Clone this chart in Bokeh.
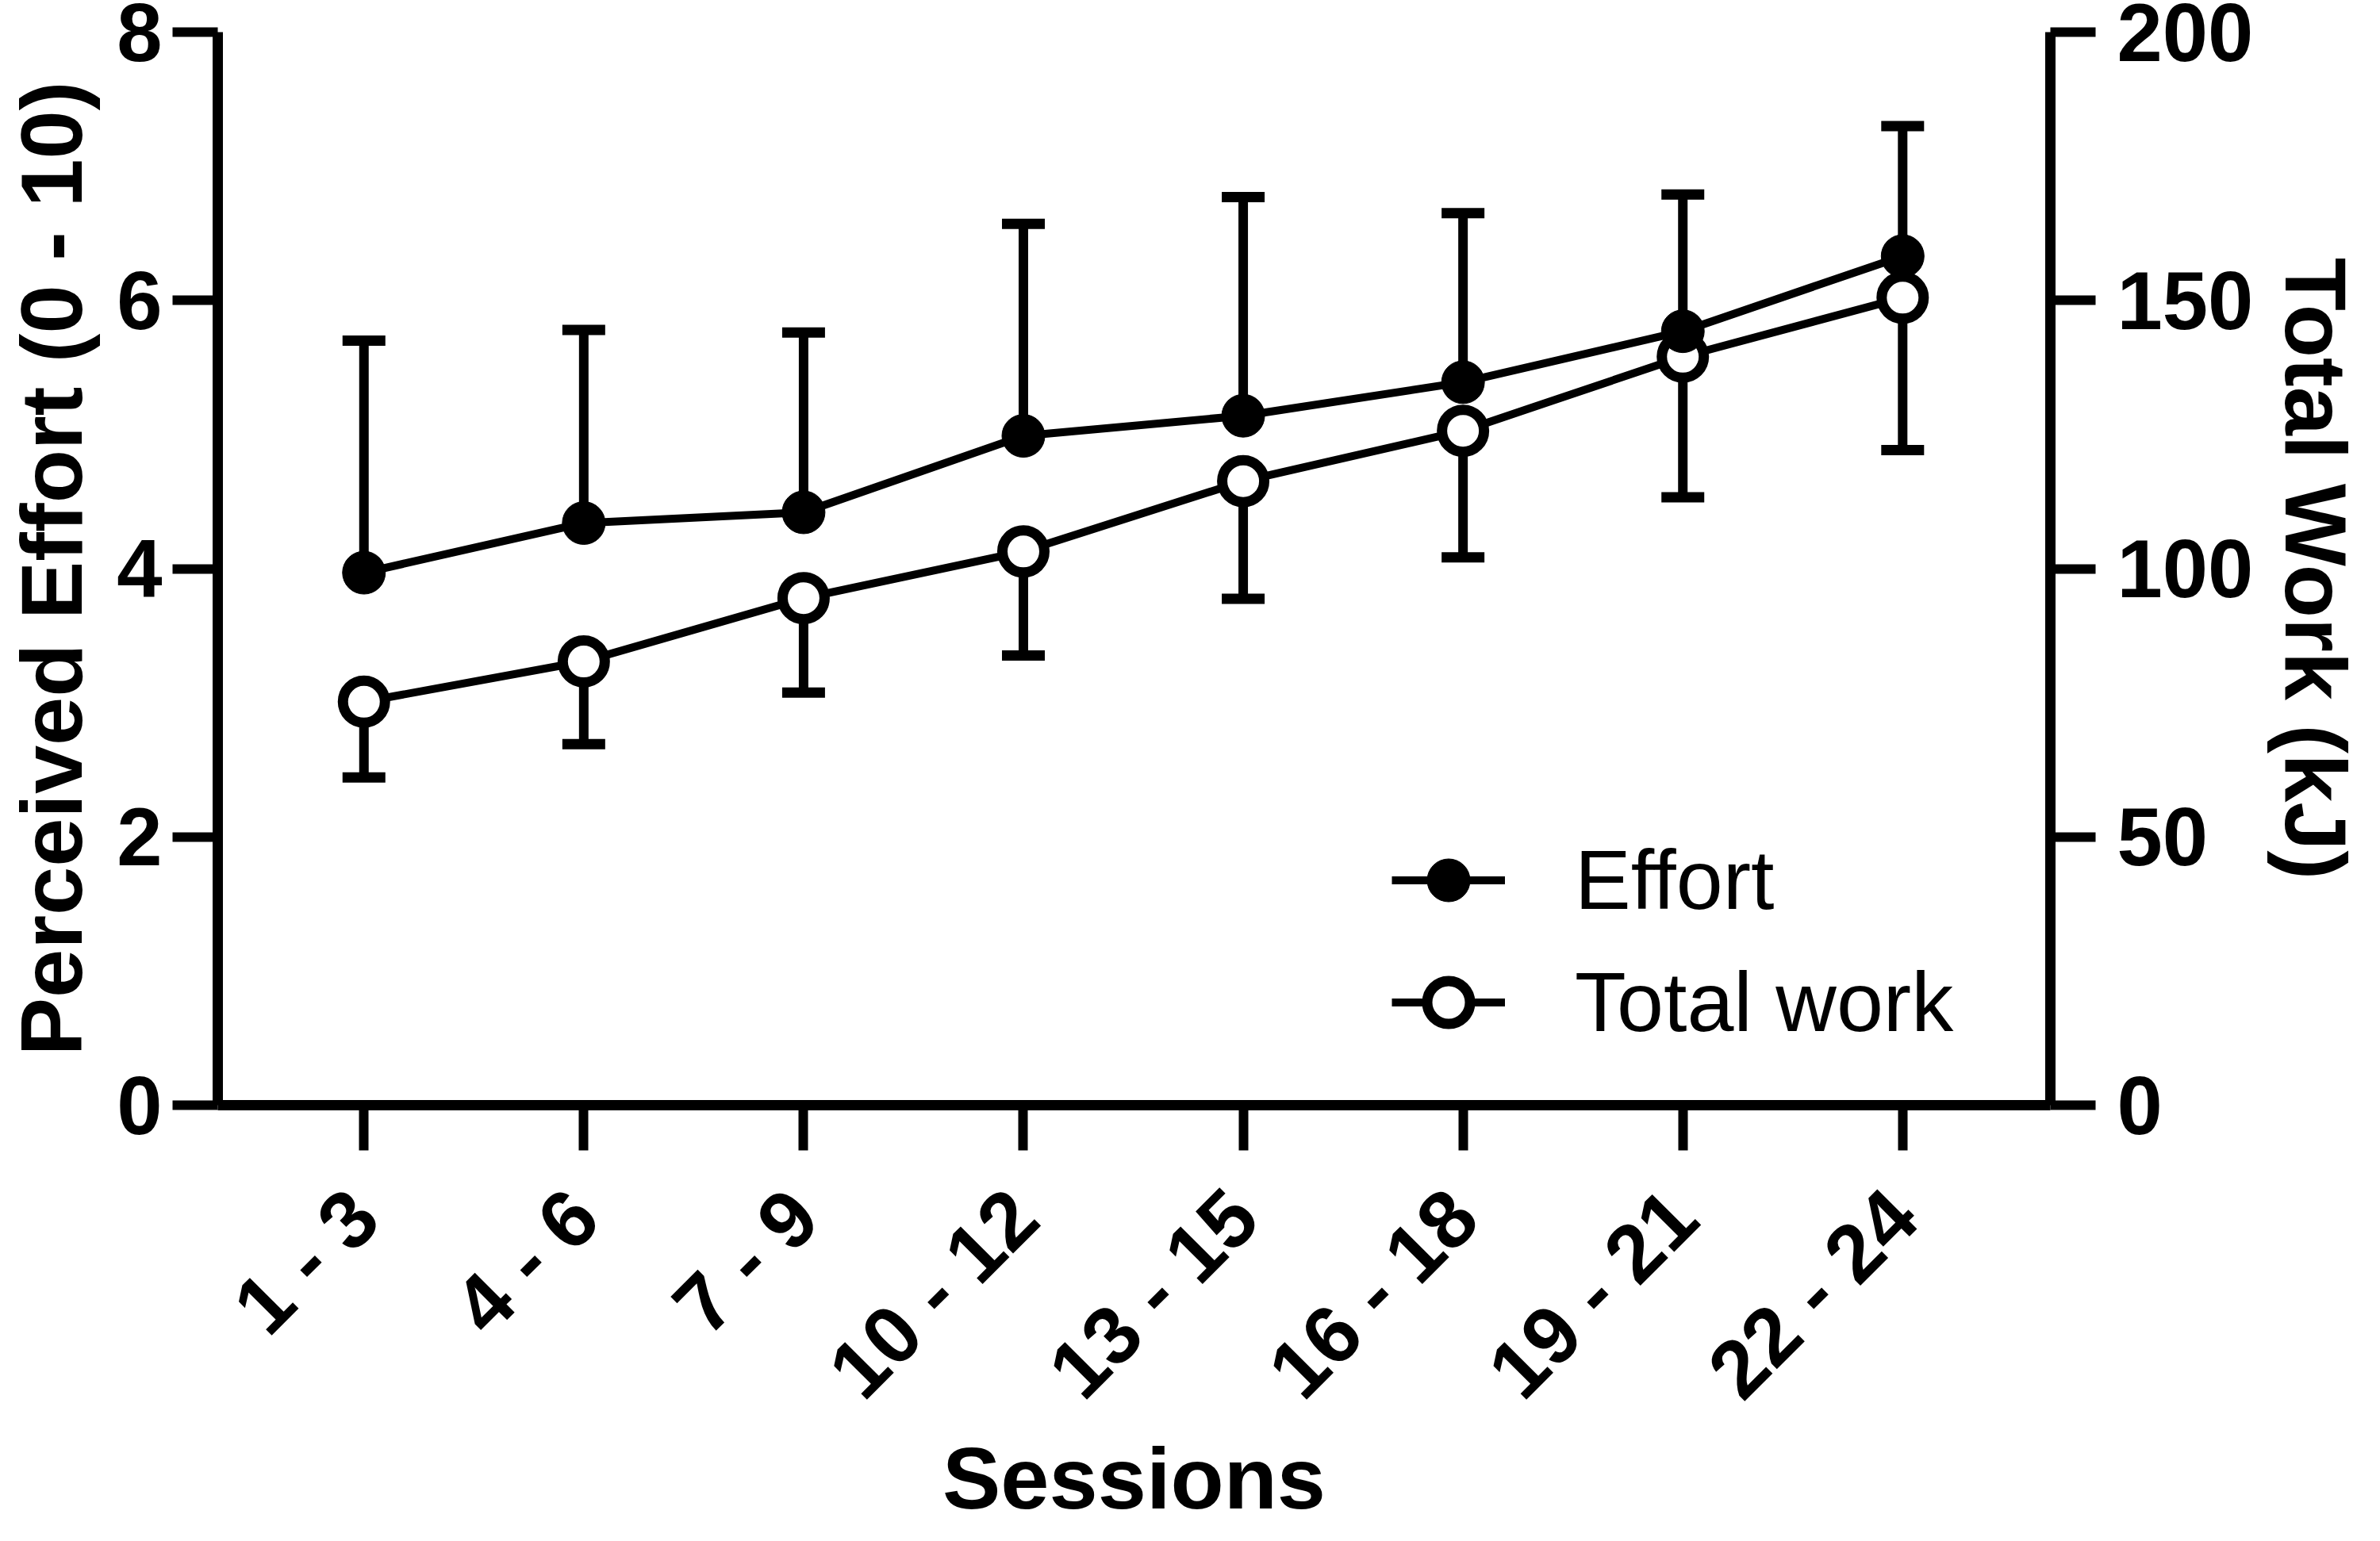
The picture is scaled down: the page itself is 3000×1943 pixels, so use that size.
import math
from bokeh.plotting import figure
from bokeh.models import (ColumnDataSource, Range1d, LinearAxis, FixedTicker,
                          Legend, LegendItem)
from bokeh.embed import file_html
from bokeh.resources import INLINE

# ---- data ----
sessions = ["1 - 3", "4 - 6", "7 - 9", "10 - 12", "13 - 15", "16 - 18", "19 - 21", "22 - 24"]
effort_mean = [3.97, 4.34, 4.42, 4.99, 5.14, 5.39, 5.77, 6.33]
effort_sd = [1.73, 1.44, 1.34, 1.58, 1.63, 1.26, 1.02, 0.97]
work_mean = [75.2, 82.7, 94.5, 103.2, 116.3, 125.7, 139.5, 150.5]
work_sd = [14.1, 15.4, 17.6, 19.4, 21.9, 23.6, 26.2, 28.4]
left_ticks = [0, 2, 4, 6, 8]
right_ticks = [0, 50, 100, 150, 200]
x_title = "Sessions"
left_title = "Perceived Effort (0 - 10)"
right_title = "Total Work (kJ)"

xs = list(range(len(sessions)))
src = ColumnDataSource(dict(
    x=xs,
    effort=effort_mean,
    effort_up=[m + s for m, s in zip(effort_mean, effort_sd)],
    work=work_mean,
    work_lo=[m - s for m, s in zip(work_mean, work_sd)],
))

FONT = "Liberation Sans"
W, H = 2984, 1927
BL, BR, BT, BB = 269, 395, 40, 529          # frame borders (px)
X0, X1 = -0.665, len(sessions) - 1 + 0.672

p = figure(width=W, height=H,
           x_range=Range1d(X0, X1), y_range=Range1d(left_ticks[0], left_ticks[-1]),
           output_backend="svg", toolbar_location=None,
           min_border_left=BL, min_border_right=BR,
           min_border_top=BT, min_border_bottom=BB)
p.extra_y_ranges = {"work": Range1d(right_ticks[0], right_ticks[-1])}
p.outline_line_color = None
p.xgrid.visible = False
p.ygrid.visible = False

right = LinearAxis(y_range_name="work", ticker=FixedTicker(ticks=right_ticks),
                   axis_label=right_title)
p.add_layout(right, "right")
left = p.yaxis[0]
left.ticker = FixedTicker(ticks=left_ticks)
left.axis_label = left_title
bottom = p.xaxis[0]
bottom.ticker = FixedTicker(ticks=xs)
bottom.major_label_overrides = {i: s for i, s in zip(xs, sessions)}
bottom.major_label_orientation = math.pi / 4
bottom.axis_label = x_title

# font sizes avoid exact multiples of 100px (the SVG font parser trips on them)
for ax in [bottom, left, right]:
    ax.axis_line_width = 13
    ax.axis_line_color = "black"
    ax.major_tick_line_width = 12
    ax.major_tick_line_color = "black"
    ax.major_tick_out = 57
    ax.major_tick_in = 0
    ax.minor_tick_out = 0
    ax.minor_tick_in = 0
    ax.major_label_text_font = FONT
    ax.major_label_text_font_style = "bold"
    ax.major_label_text_font_size = "103px"
    ax.major_label_text_color = "black"
    ax.axis_label_text_font = FONT
    ax.axis_label_text_font_style = "bold"
    ax.axis_label_text_font_size = "110px"
    ax.axis_label_text_color = "black"

left.major_label_standoff = 13
left.axis_label_standoff = 18
right.major_label_standoff = 27
right.axis_label_standoff = 15
bottom.major_label_standoff = 67
bottom.axis_label_standoff = -27

# error bars: stems + caps (beneath lines and markers)
p.segment(x0="x", y0="work", x1="x", y1="work_lo", source=src, y_range_name="work",
          line_width=12, line_color="black")
p.scatter(x="x", y="work_lo", source=src, y_range_name="work", marker="dash",
          size=54, line_width=13, line_color="black")
p.segment(x0="x", y0="effort", x1="x", y1="effort_up", source=src,
          line_width=12, line_color="black")
p.scatter(x="x", y="effort_up", source=src, marker="dash",
          size=54, line_width=13, line_color="black")

work_line = p.line(x="x", y="work", source=src, y_range_name="work",
                   line_width=10, line_color="black")
work_pts = p.scatter(x="x", y="work", source=src, y_range_name="work",
                     marker="circle", size=53, fill_color="white",
                     line_color="black", line_width=13)
eff_line = p.line(x="x", y="effort", source=src,
                  line_width=10, line_color="black")
eff_pts = p.scatter(x="x", y="effort", source=src, marker="circle",
                    size=54, fill_color="black", line_color="black", line_width=1)

legend = Legend(items=[LegendItem(label="Effort", renderers=[eff_line, eff_pts]),
                       LegendItem(label="Total work", renderers=[work_line, work_pts])],
                location=(1480, 62), glyph_width=143, glyph_height=135,
                label_standoff=88, spacing=19, padding=0, margin=0,
                border_line_color=None, background_fill_alpha=0,
                label_text_font=FONT, label_text_font_size="106px",
                label_text_color="black")
p.add_layout(legend)

open("out.html", "w").write(file_html(p, INLINE))
